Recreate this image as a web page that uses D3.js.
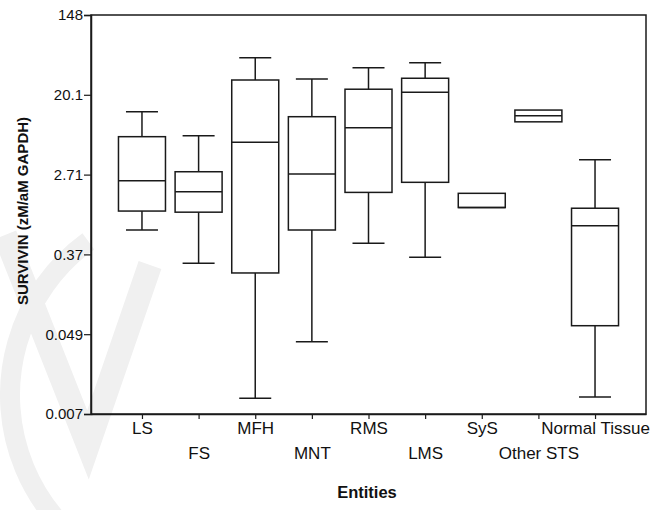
<!DOCTYPE html>
<html>
<head>
<meta charset="utf-8">
<script src="https://cdn.jsdelivr.net/npm/d3@7"></script>
<style>
  body { margin: 0; background: #fff; }
  svg { display: block; font-family: Arial, "Liberation Sans", sans-serif; }
</style>
</head>
<body>
<svg id="boxplot-svg" width="666" height="510"></svg>
<script>
// values (log-scaled y, ticks at e^-5 .. e^5)
const categories = ["LS", "FS", "MFH", "MNT", "RMS", "LMS", "SyS", "Other STS", "Normal Tissue"];
const whiskerLow  = [0.68, 0.294, 0.0100, 0.0413, 0.486, 0.342, null, null, 0.0103];
const q1          = [1.09, 1.06, 0.231, 0.678, 1.74, 2.24, 1.19, 10.2, 0.0616];
const median      = [2.33, 1.77, 6.1, 2.76, 8.8, 21.4, 1.19, 11.9, 0.755];
const q3          = [7.03, 2.92, 29.1, 11.6, 23.1, 30.4, 1.70, 13.7, 1.17];
const whiskerHigh = [13.1, 7.2, 50.9, 29.8, 39.6, 44.9, null, null, 3.95];

const tickValues = [0.006738, 0.04979, 0.3679, 2.718, 20.09, 148.4];
const tickLabels = ["0.007", "0.049", "0.37", "2.71", "20.1", "148"];

function createBoxPlot() {
    const size = { left: 91, right: 646, top: 15, bottom: 414, boxWidth: 47, capWidth: 32 };
    const svg = d3.select('#boxplot-svg');
    const stroke = "#1a1a1a";

    // faint watermark in the background
    const wm = svg.append("g").attr("fill", "none").attr("stroke", "#f0f0f0");
    wm.append("path")
        .attr("stroke-width", 20)
        .attr("d", d3.arc()({ innerRadius: 190, outerRadius: 190, startAngle: Math.PI * 0.95, endAngle: Math.PI * 1.8 }))
        .attr("transform", "translate(200, 395)");
    wm.append("path")
        .attr("stroke-width", 24)
        .attr("d", "M5,235 L88,445 L150,265");

    const data = categories.map((c, i) => ({
        cat: c, lo: whiskerLow[i], q1: q1[i], med: median[i], q3: q3[i], hi: whiskerHigh[i], i: i
    }));

    const xScale = d3.scalePoint()
        .domain(categories)
        .range([size.left, size.right])
        .padding(0.9);

    const yScale = d3.scaleLog()
        .base(Math.E)
        .domain([tickValues[0], tickValues[tickValues.length - 1]])
        .range([size.bottom, size.top]);

    // frame
    svg.append("rect")
        .attr("x", size.left)
        .attr("y", size.top)
        .attr("width", size.right - size.left)
        .attr("height", size.bottom - size.top)
        .attr("fill", "none")
        .attr("stroke", stroke)
        .attr("stroke-width", 1.5);

    // y axis
    const yAxis = svg.append("g")
        .attr("transform", `translate(${size.left}, 0)`)
        .call(d3.axisLeft(yScale).tickValues(tickValues).tickSize(7).tickFormat((d, i) => tickLabels[i]));
    yAxis.select(".domain").attr("stroke", stroke).attr("stroke-width", 1.5);
    yAxis.selectAll(".tick line").attr("stroke", stroke).attr("stroke-width", 1.2);
    yAxis.selectAll(".tick text")
        .attr("font-size", 15)
        .attr("font-family", "Arial, 'Liberation Sans', sans-serif")
        .attr("fill", "#111")
        .attr("x", -8);

    // x axis with staggered labels
    const xAxis = svg.append("g")
        .attr("transform", `translate(0, ${size.bottom})`)
        .call(d3.axisBottom(xScale).tickSize(5).tickSizeOuter(0));
    xAxis.select(".domain").attr("stroke", stroke).attr("stroke-width", 1.5);
    xAxis.selectAll(".tick line").attr("stroke", stroke).attr("stroke-width", 1.2);
    xAxis.selectAll(".tick text")
        .attr("font-size", 17)
        .attr("font-family", "Arial, 'Liberation Sans', sans-serif")
        .attr("fill", "#111")
        .attr("dy", null)
        .attr("y", (d, i) => i % 2 === 0 ? 20 : 45);

    // boxes
    const g = svg.append("g")
        .attr("fill", "none")
        .attr("stroke", stroke)
        .attr("stroke-width", 1.5);

    const box = g.selectAll(".box")
        .data(data)
        .join("g")
        .attr("class", "box");

    const withWhisker = box.filter(d => d.hi !== null);

    withWhisker.append("line")
        .attr("x1", d => xScale(d.cat)).attr("x2", d => xScale(d.cat))
        .attr("y1", d => yScale(d.q3)).attr("y2", d => yScale(d.hi));
    withWhisker.append("line")
        .attr("x1", d => xScale(d.cat)).attr("x2", d => xScale(d.cat))
        .attr("y1", d => yScale(d.q1)).attr("y2", d => yScale(d.lo));
    withWhisker.append("line")
        .attr("x1", d => xScale(d.cat) - size.capWidth / 2).attr("x2", d => xScale(d.cat) + size.capWidth / 2)
        .attr("y1", d => yScale(d.hi)).attr("y2", d => yScale(d.hi));
    withWhisker.append("line")
        .attr("x1", d => xScale(d.cat) - size.capWidth / 2).attr("x2", d => xScale(d.cat) + size.capWidth / 2)
        .attr("y1", d => yScale(d.lo)).attr("y2", d => yScale(d.lo));

    box.append("rect")
        .attr("x", d => xScale(d.cat) - size.boxWidth / 2)
        .attr("y", d => yScale(d.q3))
        .attr("width", size.boxWidth)
        .attr("height", d => yScale(d.q1) - yScale(d.q3))
        .attr("fill", "#fff");

    box.append("line")
        .attr("x1", d => xScale(d.cat) - size.boxWidth / 2).attr("x2", d => xScale(d.cat) + size.boxWidth / 2)
        .attr("y1", d => yScale(d.med)).attr("y2", d => yScale(d.med));

    // labels
    svg.append("text")
        .attr("transform", "rotate(-90)")
        .attr("x", -211)
        .attr("y", 28)
        .attr("text-anchor", "middle")
        .attr("font-size", 15)
        .attr("font-weight", "bold")
        .attr("fill", "#111")
        .text("SURVIVIN (zM/aM GAPDH)");

    svg.append("text")
        .attr("x", 367)
        .attr("y", 498)
        .attr("text-anchor", "middle")
        .attr("font-size", 16.5)
        .attr("font-weight", "bold")
        .attr("fill", "#111")
        .text("Entities");
}

createBoxPlot();
</script>
</body>
</html>
